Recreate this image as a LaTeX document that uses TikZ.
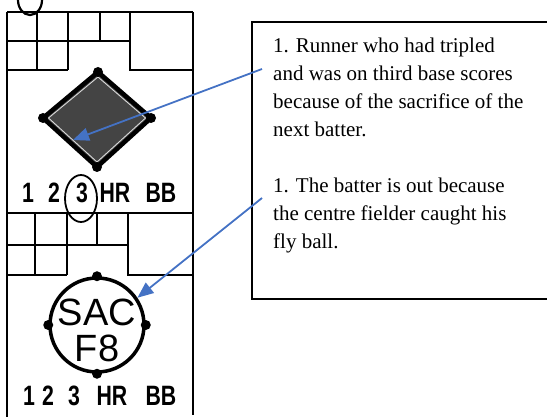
\documentclass[tikz,border=0pt]{standalone}
\usepackage{fontspec}
\setmainfont{Liberation Serif}
\newfontfamily\cardfont{Liberation Sans}
\usetikzlibrary{arrows.meta}
\definecolor{callout}{RGB}{68,114,196}
\definecolor{plate}{RGB}{68,68,68}

\begin{document}
\begin{tikzpicture}[x=1pt,y=-1pt,
  grid/.style={line width=2.2pt},
  frame/.style={line width=2.8pt},
  basedot/.style={circle,fill=black,inner sep=0pt,minimum size=10pt},
  tally/.style={font=\cardfont\bfseries\fontsize{28}{28}\selectfont,xscale=0.76,transform shape,inner sep=0pt,anchor=base},
  play/.style={font=\cardfont\fontsize{38}{36}\selectfont,inner sep=0pt,align=center},
  noteline/.style={font=\fontsize{21}{28}\selectfont,anchor=base west,inner sep=0pt},
  pointer/.style={draw=callout,line width=1.8pt,-{Triangle[length=16pt,width=13pt]}}
]
\useasboundingbox (0,0) rectangle (547,417);

% ---------- scorecard frame ----------
\draw[frame] (7,12) -- (193,12);
\draw[frame] (7,12) -- (7,417);
\draw[frame] (193,12) -- (193,415);
\draw[frame] (7,213) -- (193,213);

% leftover ring from the box above
\draw[grid] (18,0) arc[start angle=180,end angle=0,x radius=12,y radius=15];

% ---------- upper box: count grid ----------
\draw[grid] (7,41) -- (130,41);
\draw[grid] (7,70) -- (68,70);
\draw[grid] (37,12) -- (37,70);
\draw[grid] (68,12) -- (68,70);
\draw[grid] (100,12) -- (100,41);
\draw[grid] (130,12) -- (130,70) -- (193,70);

% ---------- upper box: diamond (run scored) ----------
\coordinate (dn) at (98,72);
\coordinate (de) at (151,118);
\coordinate (ds) at (97,167);
\coordinate (dw) at (43,118);
\fill[plate] (dn) -- (de) -- (ds) -- (dw) -- cycle;
\draw[line width=4.5pt,line join=round] (dn) -- (de) -- (ds) -- (dw) -- cycle;
\draw[white!85!black,line width=0.9pt,line join=round]
  (98,77) -- (145.5,118) -- (97,162) -- (48.5,118) -- cycle;
\node[basedot] (b1n) at (dn) {};
\node[basedot] (b1e) at (de) {};
\node[basedot] (b1s) at (ds) {};
\node[basedot] (b1w) at (dw) {};
\coordinate (runtip) at (73,140);

% ---------- upper box: bases reached ----------
\node[tally] (u1) at (28,203) {1};
\node[tally] (u2) at (54,203) {2};
\node[tally] (u3) at (82,203) {3};
\node[tally] (uhr) at (115,203) {HR};
\node[tally] (ubb) at (161,203) {BB};
\draw[line width=1.8pt] (81,198.5) ellipse[x radius=16,y radius=23.5];

% ---------- lower box: count grid ----------
\draw[grid] (7,245) -- (128,245);
\draw[grid] (7,275) -- (67,275);
\draw[grid] (35,213) -- (35,275);
\draw[grid] (67,213) -- (67,275);
\draw[grid] (97,213) -- (97,245);
\draw[grid] (128,213) -- (128,275) -- (193,275);

% ---------- lower box: sacrifice fly out ----------
\node[circle,draw,line width=3.5pt,minimum size=94pt,inner sep=0pt] (ring) at (97,325) {};
\node[basedot] (b2n) at (ring.north) {};
\node[basedot] (b2e) at (ring.east) {};
\node[basedot] (b2s) at (ring.south) {};
\node[basedot] (b2w) at (ring.west) {};
\node[play] (sac) at (97,330) {SAC\\F8};

% ---------- lower box: bases reached ----------
\node[tally] (l1) at (29,405) {1};
\node[tally] (l2) at (48,405) {2};
\node[tally] (l3) at (74,405) {3};
\node[tally] (lhr) at (112,405) {HR};
\node[tally] (lbb) at (161,405) {BB};

% ---------- explanation box ----------
\node[draw,line width=1.6pt,minimum width=348pt,minimum height=277pt,inner sep=0pt]
  (notebox) at (426,160.5) {};
\node[noteline] (n1) at (273,53) {1. Runner who had tripled};
\node[noteline] (n2) at (273,81) {and was on third base scores};
\node[noteline] (n3) at (273,109) {because of the sacrifice of the};
\node[noteline] (n4) at (273,136.5) {next batter.};
\node[noteline] (n5) at (273,193) {1. The batter is out because};
\node[noteline] (n6) at (273,221) {the centre fielder caught his};
\node[noteline] (n7) at (273,248.5) {fly ball.};

\coordinate (runtail) at (262,69);
\coordinate (outtail) at (262,198);

% ---------- callout arrows ----------
\draw[pointer] (runtail) -- (runtip);
\draw[pointer] (outtail) -- (ring.34);
\end{tikzpicture}
\end{document}
